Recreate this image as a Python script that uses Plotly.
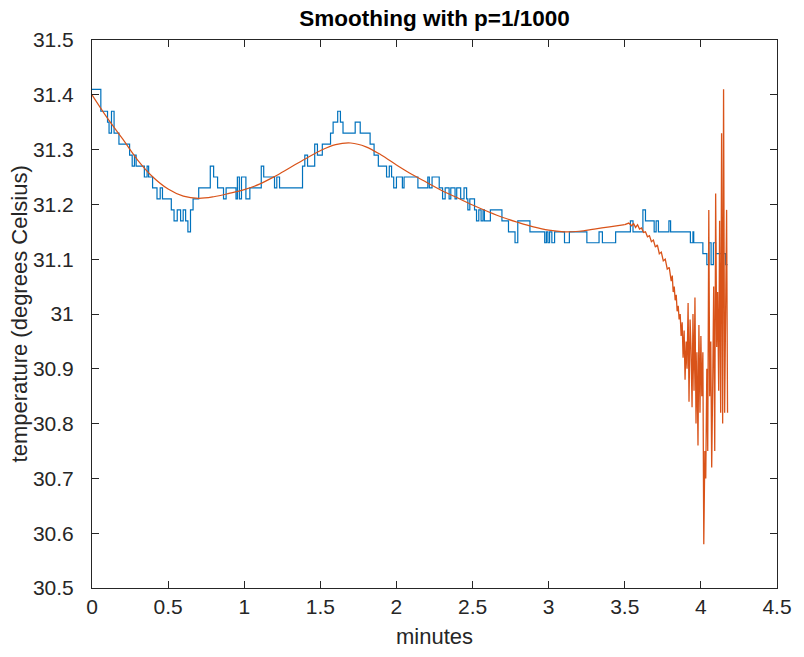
import plotly.graph_objects as go

# ---- data (minutes, degrees Celsius) ----
blue_t = [0.000, 0.058, 0.102, 0.112, 0.128, 0.145, 0.177, 0.247, 0.264, 0.279,
          0.290, 0.344, 0.362, 0.372, 0.398, 0.427, 0.448, 0.463, 0.521, 0.539,
          0.560, 0.582, 0.599, 0.615, 0.630, 0.647, 0.664, 0.701, 0.777, 0.799,
          0.825, 0.864, 0.881, 0.946, 0.955, 0.968, 0.982, 1.011, 1.037, 1.112,
          1.128, 1.199, 1.214, 1.232, 1.383, 1.398, 1.416, 1.463, 1.481, 1.513,
          1.567, 1.584, 1.614, 1.632, 1.649, 1.729, 1.762, 1.827, 1.853, 1.881,
          1.935, 1.953, 1.968, 1.982, 2.000, 2.039, 2.050, 2.141, 2.206, 2.216,
          2.234, 2.281, 2.303, 2.320, 2.346, 2.357, 2.385, 2.396, 2.422, 2.444,
          2.461, 2.469, 2.482, 2.513, 2.526, 2.541, 2.556, 2.569, 2.578, 2.617,
          2.693, 2.736, 2.779, 2.797, 2.877, 2.974, 2.985, 2.995, 3.006, 3.021,
          3.039, 3.104, 3.136, 3.251, 3.331, 3.353, 3.440, 3.537, 3.554, 3.619,
          3.636, 3.693, 3.706, 3.721, 3.790, 3.801, 3.931, 3.948, 3.953, 4.013,
          4.039, 4.052, 4.067, 4.082, 4.097, 4.162, 4.175]
blue_v = [31.41, 31.37, 31.35, 31.33, 31.37, 31.33, 31.31, 31.29, 31.27, 31.29,
          31.27, 31.25, 31.27, 31.25, 31.23, 31.21, 31.23, 31.21, 31.19, 31.17,
          31.19, 31.17, 31.19, 31.17, 31.15, 31.19, 31.21, 31.23, 31.27, 31.25,
          31.23, 31.21, 31.23, 31.21, 31.25, 31.21, 31.25, 31.21, 31.23, 31.27,
          31.25, 31.23, 31.25, 31.23, 31.27, 31.29, 31.27, 31.31, 31.29, 31.31,
          31.33, 31.35, 31.37, 31.35, 31.33, 31.35, 31.33, 31.31, 31.29, 31.27,
          31.25, 31.27, 31.25, 31.23, 31.25, 31.23, 31.25, 31.23, 31.25, 31.23,
          31.25, 31.23, 31.21, 31.23, 31.21, 31.23, 31.21, 31.23, 31.21, 31.23,
          31.21, 31.19, 31.21, 31.19, 31.17, 31.19, 31.17, 31.19, 31.17, 31.19,
          31.17, 31.15, 31.13, 31.17, 31.15, 31.13, 31.15, 31.13, 31.15, 31.13,
          31.15, 31.13, 31.15, 31.13, 31.15, 31.13, 31.15, 31.17, 31.15, 31.19,
          31.17, 31.15, 31.17, 31.15, 31.17, 31.15, 31.13, 31.15, 31.13, 31.11,
          31.09, 31.13, 31.09, 31.13, 31.11, 31.09, 31.09]

smooth_t = [0.0, 0.1, 0.2, 0.3, 0.4, 0.5, 0.6, 0.7, 0.8, 0.9, 1.0, 1.1, 1.2,
            1.3, 1.4, 1.5, 1.6, 1.7, 1.8, 1.9, 2.0, 2.1, 2.2, 2.3, 2.4, 2.5,
            2.6, 2.7, 2.8, 2.9, 3.0, 3.1, 3.2, 3.3, 3.4, 3.5]
smooth_v = [31.400, 31.358, 31.320, 31.281, 31.250, 31.228, 31.215, 31.211,
            31.214, 31.220, 31.227, 31.237, 31.251, 31.267, 31.283, 31.298,
            31.309, 31.312, 31.305, 31.290, 31.272, 31.255, 31.240, 31.225,
            31.212, 31.199, 31.187, 31.176, 31.167, 31.159, 31.153, 31.150,
            31.151, 31.155, 31.159, 31.163]

noisy_t = [3.500, 3.526, 3.545, 3.558, 3.571, 3.584, 3.597, 3.610, 3.623, 3.636,
           3.649, 3.662, 3.675, 3.688, 3.701, 3.714, 3.727, 3.740, 3.753, 3.766,
           3.779, 3.792, 3.805, 3.812, 3.818, 3.825, 3.831, 3.838, 3.844, 3.851,
           3.857, 3.864, 3.870, 3.877, 3.883, 3.890, 3.896, 3.903, 3.909, 3.916,
           3.922, 3.929, 3.935, 3.942, 3.948, 3.955, 3.961, 3.968, 3.974, 3.981,
           3.987, 3.994, 4.000, 4.006, 4.013, 4.019, 4.026, 4.032, 4.039, 4.045,
           4.052, 4.058, 4.065, 4.071, 4.078, 4.084, 4.091, 4.097, 4.104, 4.110,
           4.117, 4.123, 4.130, 4.136, 4.143, 4.149, 4.156, 4.162, 4.169, 4.175]
noisy_v = [31.163, 31.166, 31.161, 31.165, 31.158, 31.163, 31.155, 31.157, 31.149, 31.150,
           31.141, 31.143, 31.132, 31.135, 31.122, 31.126, 31.110, 31.113, 31.097, 31.100,
           31.082, 31.085, 31.060, 31.070, 31.040, 31.050, 31.025, 31.035, 31.005, 31.015,
           30.990, 31.000, 30.960, 30.985, 30.920, 30.970, 30.880, 30.950, 30.900, 31.020,
           30.840, 30.990, 30.940, 30.830, 31.000, 30.860, 31.030, 30.800, 30.930, 30.760,
           30.980, 30.820, 30.960, 30.850, 30.930, 30.580, 30.750, 30.700, 30.900, 30.750,
           31.190, 30.850, 30.950, 30.720, 30.880, 31.050, 30.750, 31.220, 30.940, 31.040,
           30.860, 31.170, 30.820, 31.330, 30.800, 31.410, 30.820, 31.070, 31.190, 30.820]

x_ticks = [0, 0.5, 1, 1.5, 2, 2.5, 3, 3.5, 4, 4.5]
x_tick_labels = ["0", "0.5", "1", "1.5", "2", "2.5", "3", "3.5", "4", "4.5"]
y_ticks = [30.5, 30.6, 30.7, 30.8, 30.9, 31.0, 31.1, 31.2, 31.3, 31.4, 31.5]
y_tick_labels = ["30.5", "30.6", "30.7", "30.8", "30.9", "31", "31.1", "31.2", "31.3", "31.4", "31.5"]

BLUE = "#0072BD"
ORANGE = "#D95319"
AX = "#262626"
FONT = "Liberation Sans, Arial, Helvetica, sans-serif"

fig = go.Figure()
fig.add_trace(go.Scatter(x=blue_t, y=blue_v, mode="lines", line=dict(color=BLUE, width=1.2, shape="hv"),
                         showlegend=False, hoverinfo="skip"))
fig.add_trace(go.Scatter(x=smooth_t, y=smooth_v, mode="lines", line=dict(color=ORANGE, width=1.2, shape="spline"),
                         showlegend=False, hoverinfo="skip"))
fig.add_trace(go.Scatter(x=noisy_t, y=noisy_v, mode="lines", line=dict(color=ORANGE, width=1.3),
                         showlegend=False, hoverinfo="skip"))

axis_common = dict(showline=True, linecolor=AX, linewidth=1, mirror="ticks", ticks="inside",
                   ticklen=7, tickwidth=1, tickcolor=AX, showgrid=False, zeroline=False,
                   tickfont=dict(family=FONT, size=21, color=AX))

fig.update_xaxes(range=[0, 4.5], tickvals=x_ticks, ticktext=x_tick_labels, **axis_common)
fig.update_yaxes(range=[30.5, 31.5], tickvals=y_ticks, ticktext=y_tick_labels,
                 ticklabelstandoff=13, **axis_common)

fig.update_layout(
    width=804, height=657,
    margin=dict(l=92, r=19, t=40, b=69),
    paper_bgcolor="white", plot_bgcolor="white",
    font=dict(family=FONT, color=AX),
    title=dict(text="<b>Smoothing with p=1/1000</b>", x=0.5, xref="paper", xanchor="center",
               y=1 - 18 / 657, yref="container", yanchor="middle",
               font=dict(family=FONT, size=22.5, color="black")),
    annotations=[
        dict(text="minutes", xref="paper", yref="paper", x=0.5, y=-0.0894,
             xanchor="center", yanchor="middle", showarrow=False,
             font=dict(family=FONT, size=22, color=AX)),
        dict(text="temperature (degrees Celsius)", xref="paper", yref="paper",
             x=-0.106, y=0.5, textangle=-90, xanchor="center", yanchor="middle",
             showarrow=False, font=dict(family=FONT, size=22, color=AX)),
    ],
)

fig.write_html("out.html")
